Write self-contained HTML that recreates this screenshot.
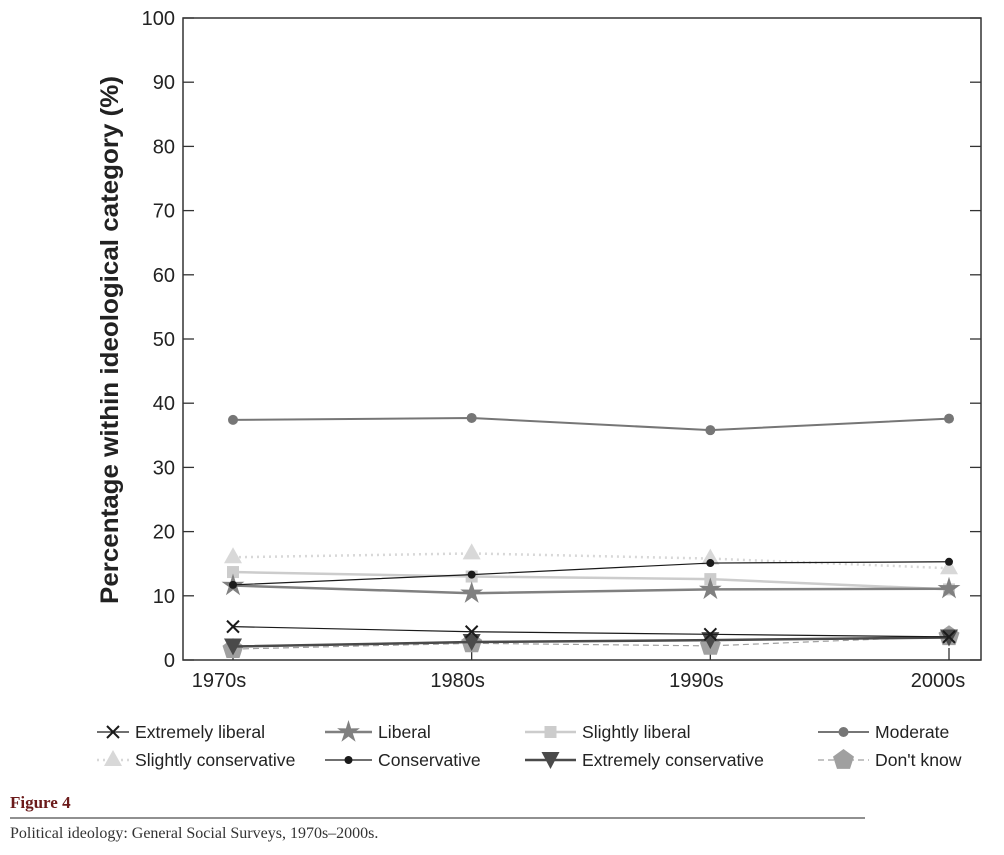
<!DOCTYPE html>
<html><head><meta charset="utf-8"><style>
body{margin:0;background:#fff;width:1004px;height:850px;overflow:hidden}
svg text{font-family:"Liberation Sans",sans-serif}
</style></head><body>
<svg id="chart" width="1004" height="850" viewBox="0 0 1004 850" xmlns="http://www.w3.org/2000/svg">
<g id="axes"></g><g id="series"></g><g id="legend"></g>
<text x="10" y="808" font-weight="bold" font-size="17" fill="#6b1a1a" style="font-family:'Liberation Serif',serif">Figure 4</text>
<line x1="10" y1="818" x2="865" y2="818" stroke="#222" stroke-width="1"/>
<text x="10" y="838" font-size="16" fill="#333" style="font-family:'Liberation Serif',serif">Political ideology: General Social Surveys, 1970s–2000s.</text>
</svg>
<script>
const categories=["1970s","1980s","1990s","2000s"];
const yTicks=[0,10,20,30,40,50,60,70,80,90,100];
const extremelyLiberal=[5.2,4.4,4.0,3.6];
const liberal=[11.6,10.4,11.0,11.1];
const slightlyLiberal=[13.7,13.0,12.6,11.0];
const moderate=[37.4,37.7,35.8,37.6];
const slightlyConservative=[16.0,16.6,15.8,14.3];
const conservative=[11.7,13.3,15.1,15.3];
const extremelyConservative=[2.1,2.8,3.1,3.5];
const dontKnow=[1.7,2.6,2.2,3.7];

const NS="http://www.w3.org/2000/svg";
const L=183,R=981,T=18,B=660,X0=233,X1=949;
const x=i=>X0+i*(X1-X0)/(categories.length-1);
const y=v=>B-(v/100)*(B-T);
function el(tag,attrs,parent){const e=document.createElementNS(NS,tag);for(const k in attrs)e.setAttribute(k,attrs[k]);parent.appendChild(e);return e;}
const axes=document.getElementById('axes'),ser=document.getElementById('series'),leg=document.getElementById('legend');

const frame=el('rect',{x:L,y:T,width:R-L,height:B-T,fill:'none',stroke:'#333','stroke-width':1.5},axes);


yTicks.forEach(v=>{
  const t1=el('line',{x1:L,x2:L+11,y1:y(v),y2:y(v),stroke:'#333','stroke-width':1.3},axes);
  
  
  const t2=el('line',{x1:R-11,x2:R,y1:y(v),y2:y(v),stroke:'#333','stroke-width':1.3},axes);
  
  
  const tl=el('text',{x:L-8,y:y(v)+7,'text-anchor':'end','font-size':20,fill:'#222'},axes);
  tl.textContent=v;
  
  
});
categories.forEach((c,i)=>{
  const t=el('line',{x1:x(i),x2:x(i),y1:B,y2:B-12,stroke:'#333','stroke-width':1.3},axes);
  
  
  const tl=el('text',{x:x(i)-14+(i==3?3:0),y:B+27,'text-anchor':'middle','font-size':20,fill:'#222'},axes);
  tl.textContent=c;
  
  
});
const yt=el('text',{x:0,y:0,transform:'translate(118,340) rotate(-90)','text-anchor':'middle','font-size':25,'font-weight':'bold',fill:'#222',textLength:528,lengthAdjust:'spacingAndGlyphs'},axes);
yt.textContent='Percentage within ideological category (%)';



function marker(type,cx,cy,color,g){
  let m;
  if(type==='x'){m=el('path',{d:`M${cx-6},${cy-6}L${cx+6},${cy+6}M${cx-6},${cy+6}L${cx+6},${cy-6}`,stroke:color,'stroke-width':2,fill:'none'},g);}
  else if(type==='star'){let p=[];for(let k=0;k<10;k++){const r=k%2?4.5:12,a=-Math.PI/2+k*Math.PI/5;p.push((cx+r*Math.cos(a)).toFixed(1)+','+(cy+r*Math.sin(a)).toFixed(1));}m=el('polygon',{points:p.join(' '),fill:color},g);}
  else if(type==='square'){m=el('rect',{x:cx-6,y:cy-6,width:12,height:12,fill:color},g);}
  else if(type==='circle'){m=el('circle',{cx,cy,r:5,fill:color},g);}
  else if(type==='smallcircle'){m=el('circle',{cx,cy,r:4,fill:color},g);}
  else if(type==='tri'){m=el('polygon',{points:`${cx},${cy-10} ${cx+9},${cy+6} ${cx-9},${cy+6}`,fill:color},g);}
  else if(type==='dtri'){m=el('polygon',{points:`${cx-9},${cy-8} ${cx+9},${cy-8} ${cx},${cy+9}`,fill:color},g);}
  else if(type==='pent'){let p=[];for(let k=0;k<5;k++){const a=-Math.PI/2+k*2*Math.PI/5;p.push((cx+11*Math.cos(a)).toFixed(1)+','+(cy+11*Math.sin(a)).toFixed(1));}m=el('polygon',{points:p.join(' '),fill:color},g);}
  return m;
}
const series=[
 {name:'Don\'t know',key:'dont-know',data:dontKnow,color:'#a0a0a0',w:1.2,dash:'6,4',m:'pent'},
 {name:'Slightly conservative',key:'slightly-conservative',data:slightlyConservative,color:'#d8d8d8',w:2.5,dash:'2,4',m:'tri'},
 {name:'Slightly liberal',key:'slightly-liberal',data:slightlyLiberal,color:'#cccccc',w:2.5,dash:'',m:'square'},
 {name:'Liberal',key:'liberal',data:liberal,color:'#808080',w:2.5,dash:'',m:'star'},
 {name:'Moderate',key:'moderate',data:moderate,color:'#767676',w:2,dash:'',m:'circle'},
 {name:'Extremely conservative',key:'extremely-conservative',data:extremelyConservative,color:'#4a4a4a',w:2.5,dash:'',m:'dtri'},
 {name:'Conservative',key:'conservative',data:conservative,color:'#1a1a1a',w:1.2,dash:'',m:'smallcircle'},
 {name:'Extremely liberal',key:'extremely-liberal',data:extremelyLiberal,color:'#1a1a1a',w:1.2,dash:'',m:'x'}
];
series.forEach(s=>{
  const g=el('g',{},ser);
  
  
  const pl=el('polyline',{points:s.data.map((v,i)=>x(i)+','+y(v)).join(' '),fill:'none',stroke:s.color,'stroke-width':s.w,'stroke-dasharray':s.dash},g);
  
  
  s.data.forEach((v,i)=>{
    const m=marker(s.m,x(i),y(v),s.color,g);
    
    
  });
});
const order=['extremely-liberal','liberal','slightly-liberal','moderate','slightly-conservative','conservative','extremely-conservative','dont-know'];
const colX=[97,325,525,818],textX=[135,378,582,875],rowY=[732,760];
order.forEach((k,idx)=>{
  const s=series.find(q=>q.key===k);const c=idx%4,r=Math.floor(idx/4);
  const g=el('g',{},leg);
  
  
  const lx1=colX[c],lx2=textX[c]-6,cy=rowY[r];
  el('line',{x1:lx1,x2:lx2,y1:cy,y2:cy,stroke:s.color,'stroke-width':s.w,'stroke-dasharray':s.dash},g);
  marker(s.m,(lx1+lx2)/2,cy,s.color,g);
  const t=el('text',{x:textX[c],y:cy+6,'font-size':17.6,fill:'#222'},g);
  t.textContent=s.name;
});
</script>
</body></html>
